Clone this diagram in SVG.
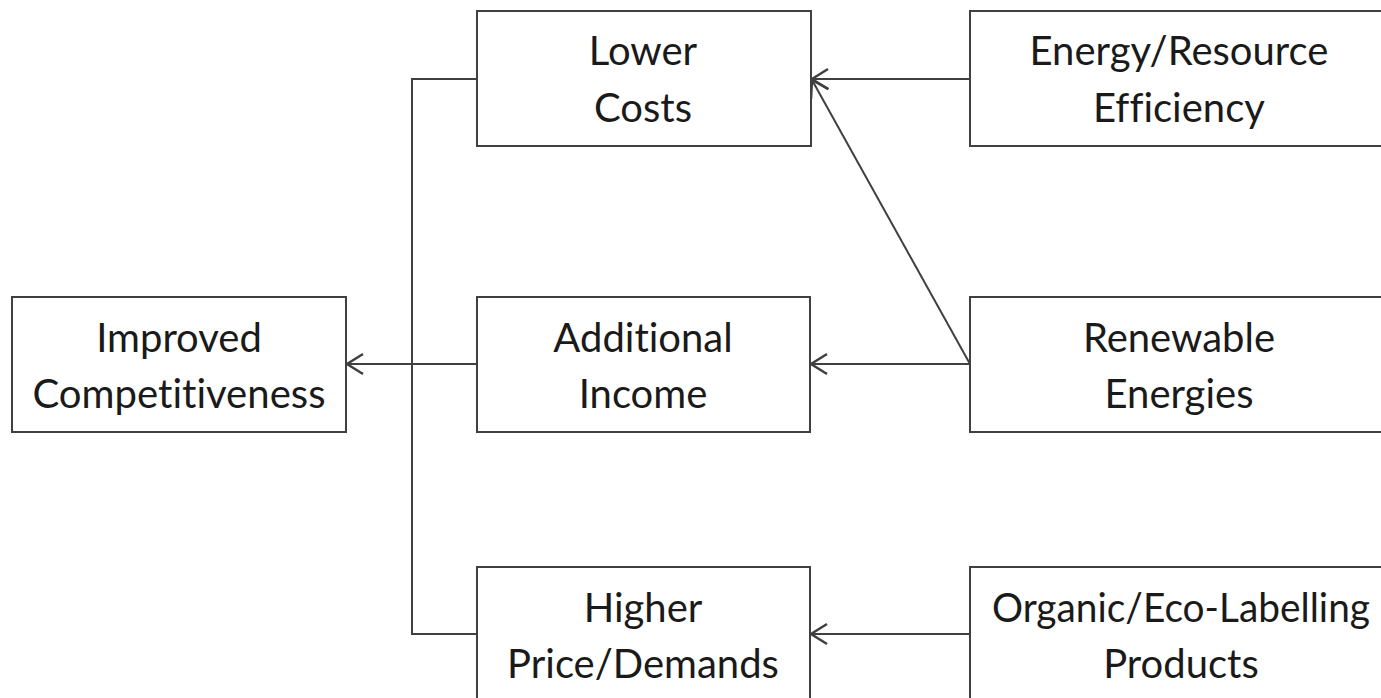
<svg xmlns="http://www.w3.org/2000/svg" width="1381" height="698" viewBox="0 0 1381 698">
<style>
.box{fill:#fff;stroke:#404040;stroke-width:2}
.lbl{font-family:Lato,"Open Sans",sans-serif;font-size:40px;fill:#1a1a1a;text-anchor:middle;font-variant-ligatures:none}
.con{fill:none;stroke:#404040;stroke-width:2}
</style>
<defs>
<marker id="arr" markerUnits="userSpaceOnUse" markerWidth="24" markerHeight="24" viewBox="-20 -12 24 24" refX="0" refY="0" orient="auto">
<path d="M-16,-10 L0,0 L-16,10" fill="none" stroke="#404040" stroke-width="2.5"/>
</marker>
</defs>
<g id="connectors">
<path class="con" d="M477,79 H412 V634 H477"/>
<path class="con" d="M477,364 H347" marker-end="url(#arr)"/>
<path class="con" d="M970,79 H812" marker-end="url(#arr)"/>
<path class="con" d="M970,364 L812,80" marker-end="url(#arr)"/>
<path class="con" d="M970,364 H811" marker-end="url(#arr)"/>
<path class="con" d="M970,634 H811" marker-end="url(#arr)"/>
</g>
<g id="improved"><rect class="box" x="12" y="297" width="334" height="135"/><text class="lbl" x="179" y="352">Improved</text><text class="lbl" x="179" y="408" textLength="293" lengthAdjust="spacingAndGlyphs">Competitiveness</text></g>
<g id="lower"><rect class="box" x="477" y="11" width="334" height="135"/><text class="lbl" x="643" y="65">Lower</text><text class="lbl" x="643" y="122">Costs</text></g>
<g id="additional"><rect class="box" x="477" y="297" width="333" height="135"/><text class="lbl" x="643" y="352">Additional</text><text class="lbl" x="643" y="408">Income</text></g>
<g id="higher"><rect class="box" x="477" y="567" width="333" height="140"/><text class="lbl" x="643" y="622">Higher</text><text class="lbl" x="643" y="678">Price/Demands</text></g>
<g id="energy"><rect class="box" x="970" y="11" width="420" height="135"/><text class="lbl" x="1179" y="65">Energy/Resource</text><text class="lbl" x="1179" y="122">Efficiency</text></g>
<g id="renewable"><rect class="box" x="970" y="297" width="420" height="135"/><text class="lbl" x="1179" y="352">Renewable</text><text class="lbl" x="1179" y="408">Energies</text></g>
<g id="organic"><rect class="box" x="970" y="567" width="420" height="140"/><text class="lbl" x="1181" y="622" textLength="378" lengthAdjust="spacingAndGlyphs">Organic/Eco-Labelling</text><text class="lbl" x="1181" y="678">Products</text></g>
</svg>
